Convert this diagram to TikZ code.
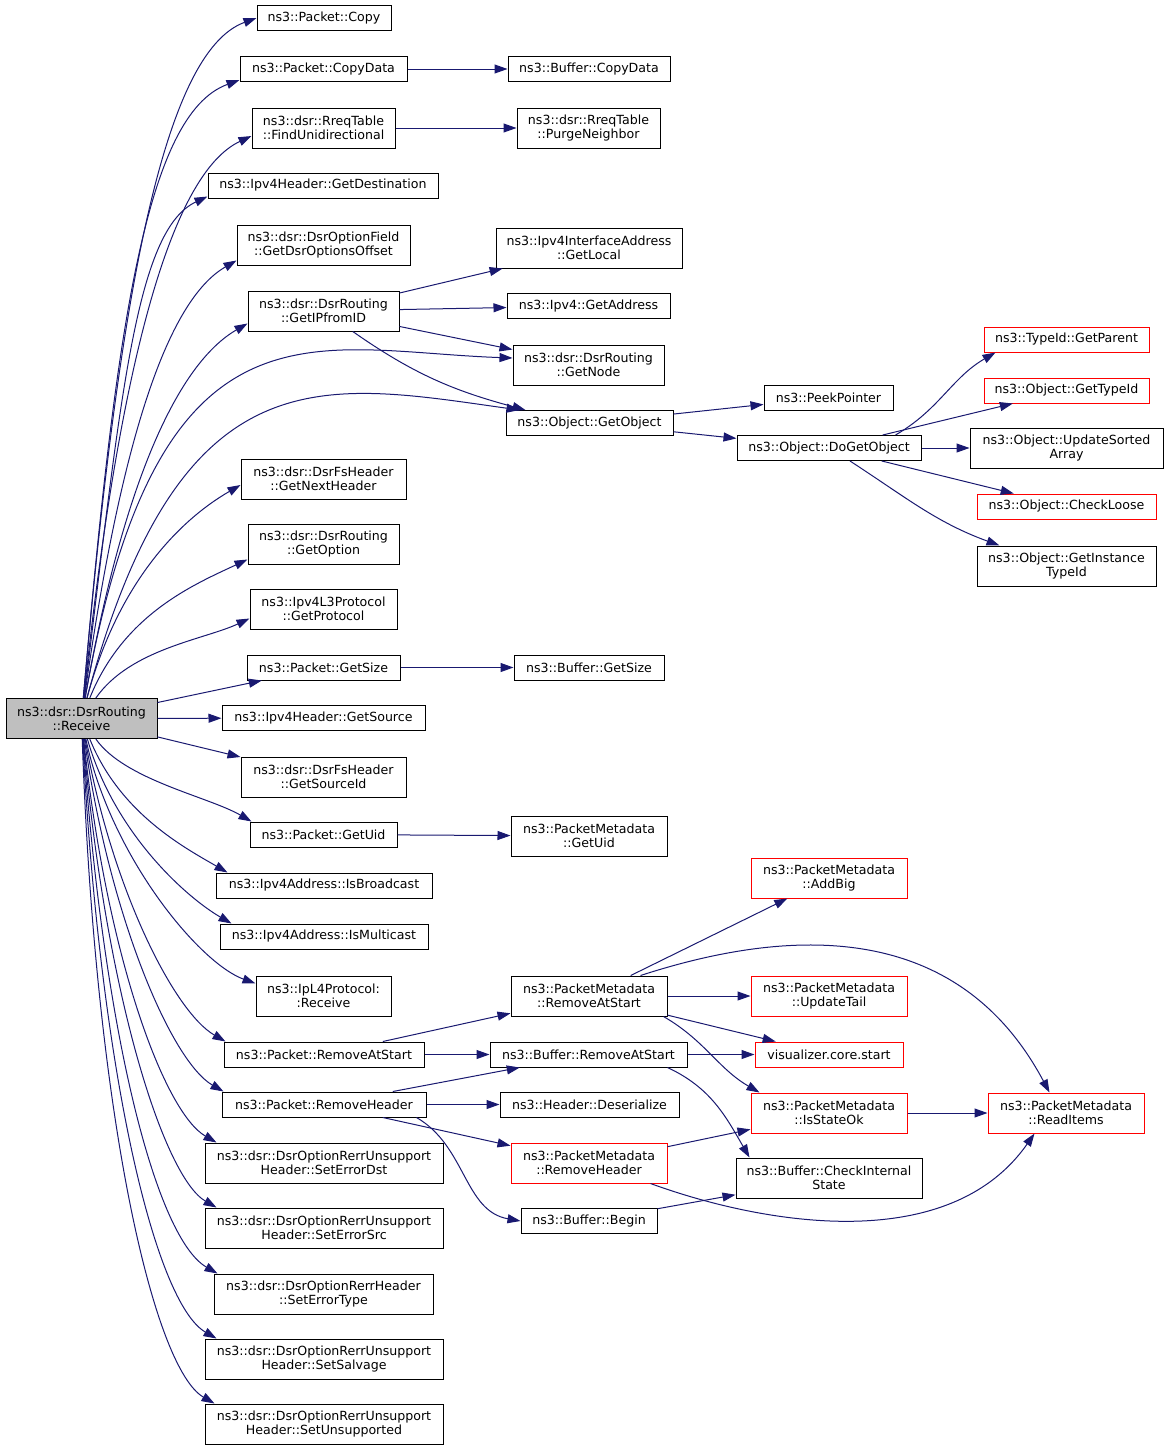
\documentclass[tikz,border=0pt]{standalone}
\usepackage{fontspec}
\setmainfont{DejaVu Sans}
\usetikzlibrary{arrows.meta}
\definecolor{edgeblue}{HTML}{191970}
\definecolor{linkred}{HTML}{FF0000}
\definecolor{curgray}{HTML}{BFBFBF}
\tikzset{
  fn/.style={draw=black,line width=1pt,inner sep=0pt,align=center,
    minimum height=25pt,font=\fontsize{12.6}{14}\selectfont},
  fnred/.style={fn,draw=linkred},
  fncur/.style={fn,fill=curgray},
  twoline/.style={minimum height=40pt},
  call/.style={draw=edgeblue,line width=1pt,-{Triangle[length=13pt,width=9pt]}}
}
\begin{document}
\begin{tikzpicture}[x=1pt,y=1pt]
\useasboundingbox (0,0) rectangle (1168,-1451);

% the function itself
\node[fncur,twoline,minimum width=151pt] (recv) at (81.5,-718.5) {ns3::dsr::DsrRouting\\::Receive};

% direct callees
\node[fn,minimum width=134pt] (copy)              at (324,-18)     {ns3::Packet::Copy};
\node[fn,minimum width=167pt] (copydata)          at (323.5,-69)   {ns3::Packet::CopyData};
\node[fn,twoline,minimum width=143pt] (findUni)   at (323.5,-128)  {ns3::dsr::RreqTable\\::FindUnidirectional};
\node[fn,minimum width=230pt] (getDest)           at (323,-185.5)  {ns3::Ipv4Header::GetDestination};
\node[fn,twoline,minimum width=173pt] (dsrOpts)   at (323.5,-245)  {ns3::dsr::DsrOptionField\\::GetDsrOptionsOffset};
\node[fn,twoline,minimum width=151pt] (getIP)     at (323.5,-311)  {ns3::dsr::DsrRouting\\::GetIPfromID};
\node[fn,twoline,minimum width=165pt] (nextHdr)   at (323.5,-479)  {ns3::dsr::DsrFsHeader\\::GetNextHeader};
\node[fn,twoline,minimum width=151pt] (getOption) at (323.5,-544)  {ns3::dsr::DsrRouting\\::GetOption};
\node[fn,twoline,minimum width=147pt] (getProto)  at (323.5,-609)  {ns3::Ipv4L3Protocol\\::GetProtocol};
\node[fn,minimum width=153pt] (getSize)           at (323.5,-667.5){ns3::Packet::GetSize};
\node[fn,minimum width=203pt] (getSrc)            at (323.5,-718)  {ns3::Ipv4Header::GetSource};
\node[fn,twoline,minimum width=165pt] (srcId)     at (323.5,-777)  {ns3::dsr::DsrFsHeader\\::GetSourceId};
\node[fn,minimum width=147pt] (getUid)            at (323.5,-834.5){ns3::Packet::GetUid};
\node[fn,minimum width=216pt] (isBcast)           at (324,-885.5)  {ns3::Ipv4Address::IsBroadcast};
\node[fn,minimum width=208pt] (isMcast)           at (324,-936.5)  {ns3::Ipv4Address::IsMulticast};
\node[fn,twoline,minimum width=135pt] (l4recv)    at (323.5,-996)  {ns3::IpL4Protocol:\\:Receive};
\node[fn,minimum width=200pt] (pktRAS)            at (324,-1054.5) {ns3::Packet::RemoveAtStart};
\node[fn,minimum width=204pt] (pktRH)             at (324,-1104.5) {ns3::Packet::RemoveHeader};
\node[fn,twoline,minimum width=238pt] (setDst)    at (324,-1163)   {ns3::dsr::DsrOptionRerrUnsupport\\Header::SetErrorDst};
\node[fn,twoline,minimum width=238pt] (setSrc)    at (324,-1228)   {ns3::dsr::DsrOptionRerrUnsupport\\Header::SetErrorSrc};
\node[fn,twoline,minimum width=219pt] (setType)   at (323.5,-1294) {ns3::dsr::DsrOptionRerrHeader\\::SetErrorType};
\node[fn,twoline,minimum width=238pt] (setSalv)   at (324,-1359)   {ns3::dsr::DsrOptionRerrUnsupport\\Header::SetSalvage};
\node[fn,twoline,minimum width=238pt] (setUnsup)  at (324,-1424)   {ns3::dsr::DsrOptionRerrUnsupport\\Header::SetUnsupported};

% second level
\node[fn,minimum width=162pt] (bufCopyData)       at (589,-69)    {ns3::Buffer::CopyData};
\node[fn,twoline,minimum width=143pt] (purge)     at (588.5,-128) {ns3::dsr::RreqTable\\::PurgeNeighbor};
\node[fn,twoline,minimum width=186pt] (getLocal)  at (589,-248)   {ns3::Ipv4InterfaceAddress\\::GetLocal};
\node[fn,minimum width=163pt] (ipv4Addr)          at (588.5,-306) {ns3::Ipv4::GetAddress};
\node[fn,twoline,minimum width=151pt] (getNode)   at (588.5,-365) {ns3::dsr::DsrRouting\\::GetNode};
\node[fn,minimum width=167pt] (getObj)            at (589.5,-423) {ns3::Object::GetObject};
\node[fn,minimum width=150pt] (bufGetSize)        at (589,-667.5) {ns3::Buffer::GetSize};
\node[fn,twoline,minimum width=156pt] (pmGetUid)  at (589,-836)   {ns3::PacketMetadata\\::GetUid};
\node[fn,twoline,minimum width=156pt] (pmRAS)     at (589,-996)   {ns3::PacketMetadata\\::RemoveAtStart};
\node[fn,minimum width=197pt] (bufRAS)            at (588.5,-1054.5) {ns3::Buffer::RemoveAtStart};
\node[fn,minimum width=179pt] (hdrDeser)          at (589.5,-1104.5) {ns3::Header::Deserialize};
\node[fnred,twoline,minimum width=156pt] (pmRH)   at (589,-1163)  {ns3::PacketMetadata\\::RemoveHeader};
\node[fn,minimum width=136pt] (bufBegin)          at (589,-1221)  {ns3::Buffer::Begin};

% third level
\node[fn,minimum width=129pt] (peek)              at (828.5,-397.5) {ns3::PeekPointer};
\node[fn,minimum width=184pt] (doGet)             at (829,-448)     {ns3::Object::DoGetObject};
\node[fnred,twoline,minimum width=156pt] (addBig) at (829,-878)     {ns3::PacketMetadata\\::AddBig};
\node[fnred,twoline,minimum width=156pt] (updTail) at (829,-996)    {ns3::PacketMetadata\\::UpdateTail};
\node[fnred,minimum width=148pt] (vis)            at (829,-1054.5)  {visualizer.core.start};
\node[fnred,twoline,minimum width=156pt] (isOk)   at (829,-1113)    {ns3::PacketMetadata\\::IsStateOk};
\node[fn,twoline,minimum width=186pt] (chkState)  at (829,-1178)    {ns3::Buffer::CheckInternal\\State};

% fourth level
\node[fnred,minimum width=165pt] (getParent)      at (1066.5,-339.5) {ns3::TypeId::GetParent};
\node[fnred,minimum width=165pt] (getTypeId)      at (1066.5,-390.5) {ns3::Object::GetTypeId};
\node[fn,twoline,minimum width=193pt] (updSorted) at (1066.5,-448)   {ns3::Object::UpdateSorted\\Array};
\node[fnred,minimum width=179pt] (chkLoose)       at (1066.5,-506.5) {ns3::Object::CheckLoose};
\node[fn,twoline,minimum width=179pt] (instType)  at (1066.5,-566)   {ns3::Object::GetInstance\\TypeId};
\node[fnred,twoline,minimum width=156pt] (readItems) at (1066,-1113) {ns3::PacketMetadata\\::ReadItems};

% calls going up from Receive
\draw[call] (recv) to[out=85,in=200,out distance=400pt,in distance=100pt] (copy.west);
\draw[call] (recv) to[out=85,in=200,out distance=370pt,in distance=100pt] ([yshift=2pt]copydata.south west);
\draw[call] (recv) to[out=84,in=205,out distance=330pt,in distance=90pt] ([yshift=-8pt]findUni.west);
\draw[call] (recv) to[out=83,in=205,out distance=300pt,in distance=80pt] ([yshift=2pt]getDest.south west);
\draw[call] (recv) to[out=82,in=210,out distance=260pt,in distance=80pt] ([yshift=5pt]dsrOpts.south west);
\draw[call] (recv) to[out=80,in=210,out distance=220pt,in distance=80pt] ([yshift=8pt]getIP.south west);
\draw[call] (recv) to[out=80,in=178,out distance=420pt,in distance=200pt] ([yshift=7pt]getNode.west);
\draw[call] (recv) to[out=75,in=172,out distance=360pt,in distance=200pt] ([xshift=14pt]getObj.north west);
\draw[call] (recv) to[out=75,in=210,out distance=120pt,in distance=70pt] ([yshift=-6pt]nextHdr.west);
\draw[call] (recv) to[out=68,in=205,out distance=90pt,in distance=60pt] ([yshift=5pt]getOption.south west);
\draw[call] (recv) to[out=55,in=205,out distance=60pt,in distance=50pt] ([yshift=11pt]getProto.south west);
\draw[call] (recv) -- (getSize);
\draw[call] (recv) -- (getSrc);
\draw[call] (recv) -- (srcId);
% and going down
\draw[call] (recv) to[out=-55,in=150,out distance=50pt,in distance=50pt] ([xshift=2pt]getUid.north west);
\draw[call] (recv) to[out=-68,in=150,out distance=80pt,in distance=50pt] ([xshift=12pt]isBcast.north west);
\draw[call] (recv) to[out=-74,in=150,out distance=100pt,in distance=50pt] ([xshift=12pt]isMcast.north west);
\draw[call] (recv) to[out=-78,in=160,out distance=120pt,in distance=60pt] ([yshift=-8pt]l4recv.north west);
\draw[call] (recv) to[out=-80,in=150,out distance=150pt,in distance=60pt] ([xshift=2pt]pktRAS.north west);
\draw[call] (recv) to[out=-82,in=150,out distance=180pt,in distance=60pt] ([xshift=2pt]pktRH.north west);
\draw[call] (recv) to[out=-84,in=150,out distance=220pt,in distance=60pt] ([xshift=12pt]setDst.north west);
\draw[call] (recv) to[out=-85,in=150,out distance=260pt,in distance=60pt] ([xshift=12pt]setSrc.north west);
\draw[call] (recv) to[out=-86,in=150,out distance=300pt,in distance=70pt] ([xshift=4pt]setType.north west);
\draw[call] (recv) to[out=-87,in=150,out distance=340pt,in distance=70pt] ([xshift=12pt]setSalv.north west);
\draw[call] (recv) to[out=-88,in=150,out distance=380pt,in distance=70pt] ([xshift=10pt]setUnsup.north west);

% second level calls
\draw[call] (copydata) -- (bufCopyData);
\draw[call] (findUni) -- (purge);
\draw[call] (getIP) -- (getLocal);
\draw[call] (getIP) -- (ipv4Addr);
\draw[call] (getIP) -- (getNode);
\draw[call] (getIP) to[out=-35,in=165] ([xshift=20pt]getObj.north west);
\draw[call] (getSize) -- (bufGetSize);
\draw[call] (getUid) -- (pmGetUid);
\draw[call] (pktRAS) -- (pmRAS);
\draw[call] (pktRAS) -- (bufRAS);
\draw[call] (pktRH) -- (bufRAS);
\draw[call] (pktRH) -- (hdrDeser);
\draw[call] (pktRH) -- (pmRH);
\draw[call] ([xshift=-10pt]pktRH.south east) to[out=-30,in=170] (bufBegin.west);

% deeper calls
\draw[call] (getObj) -- (peek);
\draw[call] (getObj) -- (doGet);
\draw[call] ([xshift=-26pt]doGet.north east) to[out=30,in=210] ([xshift=12pt]getParent.south west);
\draw[call] (doGet) -- (getTypeId);
\draw[call] (doGet) -- (updSorted);
\draw[call] (doGet) -- (chkLoose);
\draw[call] ([xshift=21pt]doGet.south) to[out=-33,in=160] ([xshift=23pt]instType.north west);
\draw[call] (pmRAS) -- (addBig);
\draw[call] (pmRAS) -- (updTail);
\draw[call] (pmRAS) -- (vis);
\draw[call] ([xshift=-4pt]pmRAS.south east) to[out=-30,in=150] ([xshift=9pt]isOk.north west);
\draw[call] ([xshift=-27pt]pmRAS.north east) to[out=18,in=118,out distance=150pt,in distance=200pt] ([xshift=62pt]readItems.north west);
\draw[call] (bufRAS) -- (vis);
\draw[call] ([xshift=-20pt]bufRAS.south east) to[out=-25,in=120] ([xshift=14pt]chkState.north west);
\draw[call] (pmRH) -- (isOk);
\draw[call] ([xshift=-17pt]pmRH.south east) to[out=-20,in=-125,out distance=120pt,in distance=150pt] ([xshift=47pt]readItems.south west);
\draw[call] (bufBegin) -- (chkState);
\draw[call] (isOk) -- (readItems);
\end{tikzpicture}
\end{document}
